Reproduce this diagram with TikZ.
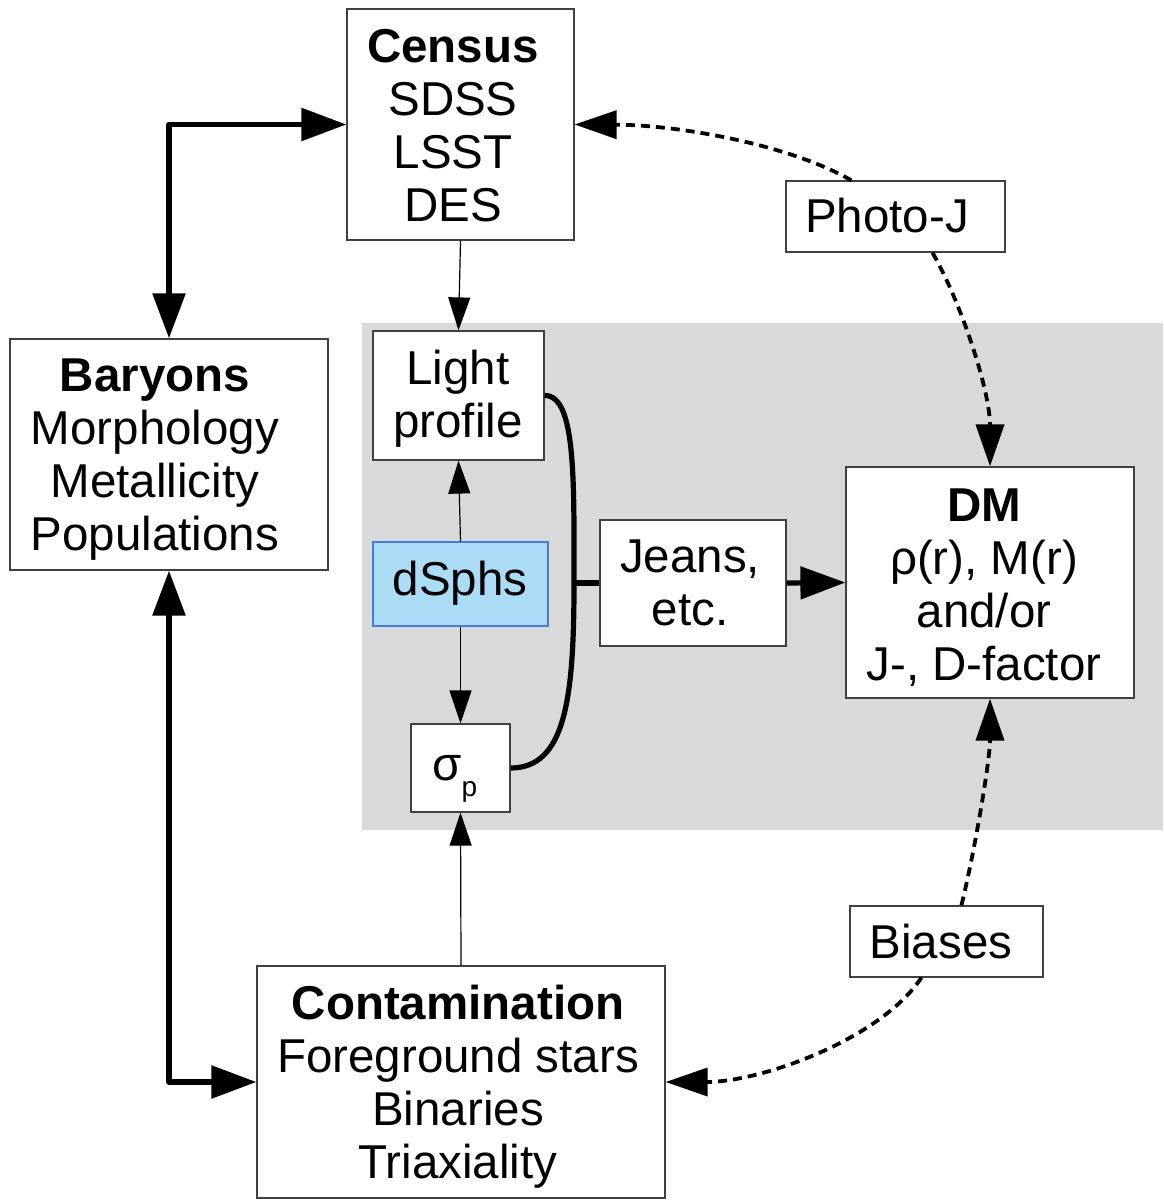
\documentclass[tikz,border=0pt]{standalone}
\usepackage{fontspec}
\setmainfont{Liberation Sans}
\usetikzlibrary{arrows.meta,calc}
\definecolor{panel}{RGB}{217,217,217}
\definecolor{dsphfill}{RGB}{170,220,246}
\definecolor{dsphline}{RGB}{70,120,230}
\definecolor{boxline}{RGB}{64,64,64}
\begin{document}
\begin{tikzpicture}[x=0.5pt,y=-0.5pt,
  box/.style={draw=boxline, line width=0.6pt, fill=white, inner sep=0pt, rectangle},
  txt/.style={align=center, inner sep=0pt, font=\fontsize{23.75pt}{26.5pt}\selectfont},
  bigtip/.tip={Triangle[length=22.5pt,width=16pt]},
  smalltip/.tip={Triangle[length=16.5pt,width=11pt]},
  dashtip/.tip={Triangle[length=21pt,width=14pt]},
  thickarr/.style={line width=2.8pt, line join=round, bigtip-bigtip},
  thinarr/.style={line width=0.6pt, -smalltip},
  dasharr/.style={line width=1.9pt, dash pattern=on 4.5pt off 3pt, -dashtip},
  curveline/.style={line width=2.6pt},
]
\useasboundingbox (0,0) rectangle (1163,1202);
\fill[white] (0,0) rectangle (1163,1202);
\fill[panel] (362,323) rectangle (1163,830);

% boxes
\node[box, minimum width=113.5pt, minimum height=115.5pt] (census) at (460.5,124.5) {};
\node[box, minimum width=109.5pt, minimum height=35.5pt] (photoj) at (895.5,216.5) {};
\node[box, minimum width=159pt, minimum height=115.5pt] (baryons) at (169,454.5) {};
\node[box, minimum width=85.5pt, minimum height=64.5pt] (light) at (458.5,395.5) {};
\node[box, draw=dsphline, fill=dsphfill, minimum width=87.5pt, minimum height=42pt] (dsph) at (460.5,584) {};
\node[box, minimum width=49.5pt, minimum height=44pt] (sigma) at (460.5,768) {};
\node[box, minimum width=93pt, minimum height=63pt] (jeans) at (693,583) {};
\node[box, minimum width=144pt, minimum height=115.5pt] (dm) at (990,582.5) {};
\node[box, minimum width=96.5pt, minimum height=35.5pt] (biases) at (946.5,941.5) {};
\node[box, minimum width=204pt, minimum height=116pt] (contam) at (461,1082) {};

% texts
\node[txt] (censust) at (453,125.5) {\textbf{Census}\\SDSS\\LSST\\DES};
\node[txt] (photojt) at (887,216) {Photo-J};
\node[txt] (baryonst) at (155,459.5) {\textbf{Baryons}\\Morphology\\Metallicity\\Populations};
\node[txt] (lightt) at (458,399) {Light\\profile};
\node[txt] (dspht) at (460,583.5) {dSphs};
\node[txt, anchor=base west] (sigmat) at (432,780) {σ\raisebox{-8pt}{\fontsize{14pt}{15pt}\selectfont p}};
\node[txt] (jeanst) at (690,582.5) {Jeans,\\etc.};
\node[txt] (dmt) at (984,588) {\textbf{DM}\\ρ(r), M(r)\\and/or\\J-, D-factor};
\node[txt] (biasest) at (941,942) {Biases};
\node[txt] (contamt) at (458,1087) {\textbf{Contamination}\\Foreground stars\\Binaries\\Triaxiality};

% thick double arrows
\draw[thickarr] (baryons.north) |- (census.west);
\draw[thickarr] (baryons.south) |- (contam.west);

% thin arrows
\draw[thinarr] (census.south) -- (light.north);
\draw[thinarr] (dsph.north) -- (light.south);
\draw[thinarr] (dsph.south) -- (sigma.north);
\draw[thinarr] (contam.north) -- (sigma.south);

% bracket curve and Jeans
\coordinate (jn) at (574,583);
\draw[curveline] (light.east) .. controls (576,395) and (574,480) .. (jn)
  .. controls (574,700) and (565,768) .. (sigma.east);
\draw[curveline] (jn) -- (jeans.west);
\draw[line width=2.6pt, -bigtip] (jeans.east) -- (dm.west);

% dashed arrows
\coordinate (pjtop) at ($(photoj.north west)+(66,0)$);
\coordinate (pjbot) at ($(photoj.south west)+(147,0)$);
\coordinate (bitop) at ($(biases.north west)+(112,0)$);
\coordinate (bibot) at ($(biases.south west)+(72,0)$);
\draw[dasharr] (pjtop) .. controls (790,145) and (680,125) .. (census.east);
\draw[dasharr] (pjbot) .. controls (960,300) and (990,390) .. (dm.north);
\draw[dasharr] (bitop) .. controls (975,850) and (990,760) .. (dm.south);
\draw[dasharr] (bibot) .. controls (880,1040) and (760,1082) .. (contam.east);
\end{tikzpicture}
\end{document}
